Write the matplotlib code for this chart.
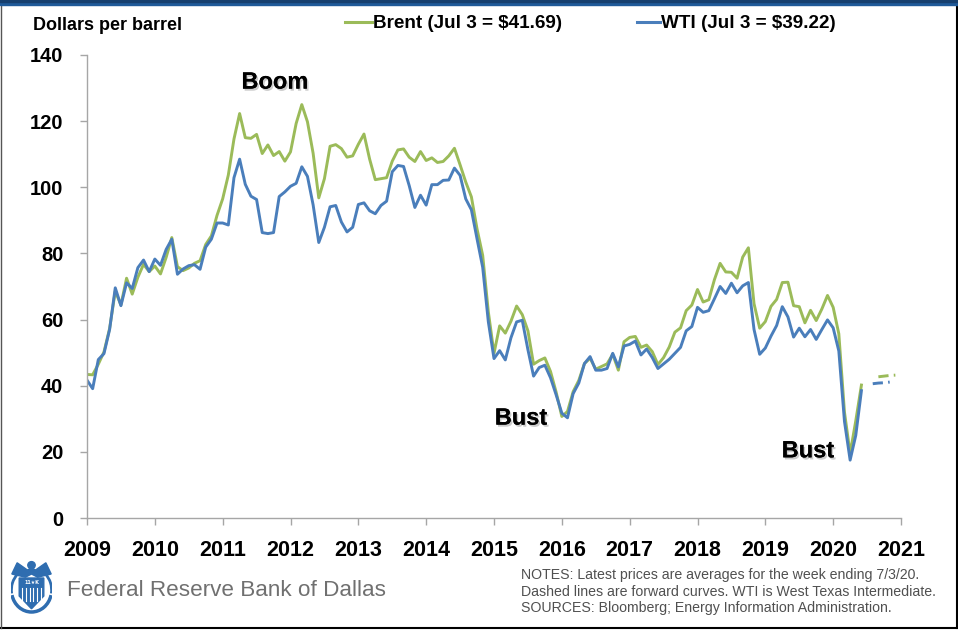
import matplotlib
matplotlib.use("Agg")
import numpy as np
from matplotlib import pyplot as plt
from matplotlib import patches
from matplotlib import patheffects as pe
from matplotlib.lines import Line2D

W, H = 958, 630

# monthly averages, Jan 2009 .. Jun 2020
brent = [
    43.4, 43.3, 46.5, 50.2, 57.3, 68.6, 64.4, 72.5, 67.7, 72.8, 76.7, 74.5,
    76.2, 73.8, 78.8, 84.8, 76.0, 74.8, 75.6, 77.0, 77.8, 82.7, 85.3, 91.5,
    96.5, 103.7, 114.6, 122.3, 115.0, 114.8, 116.0, 110.2, 112.8, 109.6, 110.8, 107.9,
    110.7, 119.3, 125.0, 119.8, 110.3, 96.8, 102.6, 112.4, 112.9, 111.7, 109.1, 109.5,
    113.0, 116.1, 108.5, 102.3, 102.6, 102.9, 107.9, 111.3, 111.6, 109.1, 107.8, 110.8,
    108.1, 108.9, 107.5, 107.8, 109.5, 111.8, 106.8, 101.6, 97.1, 87.4, 79.4, 62.3,
    49.8, 58.1, 55.9, 59.5, 64.1, 61.5, 56.6, 46.5, 47.6, 48.4, 44.3, 38.0,
    30.7, 32.2, 38.2, 41.6, 46.7, 48.3, 45.0, 45.8, 46.6, 49.5, 44.7, 53.3,
    54.6, 54.9, 51.6, 52.3, 50.3, 46.4, 48.5, 51.7, 56.2, 57.5, 62.7, 64.4,
    69.1, 65.3, 66.0, 72.1, 77.0, 74.4, 74.3, 72.5, 78.9, 81.7, 64.8, 57.4,
    59.4, 64.0, 66.1, 71.2, 71.3, 64.2, 63.9, 59.0, 62.8, 59.7, 63.2, 67.3,
    63.7, 55.7, 32.0, 19.5, 29.4, 40.2,
]
wti = [
    41.7, 39.1, 47.9, 49.7, 57.0, 69.6, 64.2, 71.1, 69.4, 75.7, 78.0, 74.5,
    78.3, 76.4, 81.2, 84.3, 73.7, 75.3, 76.3, 76.6, 75.2, 81.9, 84.3, 89.2,
    89.2, 88.6, 102.9, 108.5, 100.9, 97.3, 96.3, 86.3, 86.0, 86.3, 97.2, 98.6,
    100.3, 101.2, 106.2, 103.3, 94.7, 83.3, 87.9, 94.1, 94.5, 89.5, 86.5, 87.9,
    94.8, 95.3, 92.9, 92.0, 94.5, 95.8, 104.7, 106.6, 106.3, 100.5, 93.9, 97.6,
    94.6, 100.8, 100.8, 102.1, 102.2, 105.8, 103.6, 96.5, 93.2, 84.4, 75.8, 59.3,
    48.2, 50.6, 47.8, 54.5, 59.3, 59.8, 50.9, 42.9, 45.5, 46.2, 42.4, 37.2,
    31.7, 30.3, 37.6, 40.8, 46.7, 48.8, 44.7, 44.7, 45.2, 49.8, 45.7, 52.0,
    52.5, 53.5, 49.3, 51.1, 48.5, 45.2, 46.6, 48.0, 49.8, 51.6, 56.6, 57.9,
    63.7, 62.2, 62.7, 66.3, 70.0, 67.9, 71.0, 68.1, 70.2, 71.2, 57.0, 49.5,
    51.4, 55.0, 58.2, 63.9, 60.8, 54.7, 57.4, 54.8, 57.0, 54.0, 57.0, 59.9,
    57.5, 50.5, 29.2, 17.5, 25.0, 38.5,
]
# forward curves (dashed)
brent_fwd_months = ["2020-09", "2020-10", "2020-11", "2020-12"]
brent_fwd = [42.7, 42.9, 43.1, 43.2]
wti_fwd_months = ["2020-08", "2020-09", "2020-10", "2020-11"]
wti_fwd = [40.6, 40.8, 40.9, 41.1]

years = list(range(2009, 2022))
yticks = [0, 20, 40, 60, 80, 100, 120, 140]

legend_labels = ["Brent (Jul 3 = $41.69)", "WTI (Jul 3 = $39.22)"]
notes = [
    "NOTES: Latest prices are averages for the week ending 7/3/20.",
    "Dashed lines are forward curves. WTI is West Texas Intermediate.",
    "SOURCES: Bloomberg; Energy Information Administration.",
]

green = "#9BBB59"
blue = "#4A7EBB"


def month_pos(s):
    y, m = s.split("-")
    return int(y) + (int(m) - 1) / 12


x_hist = 2009 + np.arange(len(brent)) / 12
sans = ["Liberation Sans", "DejaVu Sans"]

fig = plt.figure(figsize=(W / 100, H / 100), dpi=100)


def fx(px):
    return px / W


def fy(py):
    return 1 - py / H


ax = fig.add_axes([fx(87), fy(518), fx(901) - fx(87), fy(55) - fy(518)])
ax.plot(x_hist, brent, color=green, lw=2.1, solid_joinstyle="round")
ax.plot(x_hist, wti, color=blue, lw=2.1, solid_joinstyle="round")
ax.plot([month_pos(m) for m in brent_fwd_months], brent_fwd, color=green, lw=2.1,
        dashes=(3.5, 1.8))
ax.plot([month_pos(m) for m in wti_fwd_months], wti_fwd, color=blue, lw=2.1,
        dashes=(3.5, 1.8))

ax.set_xlim(2009, 2021)
ax.set_ylim(0, 140)
ax.set_xticks(years)
ax.set_yticks(yticks)
ax.set_xticklabels([str(y) for y in years], family=sans, fontsize=15.5, fontweight="bold")
ax.set_yticklabels([str(v) for v in yticks], family=sans, fontsize=14.5, fontweight="bold")
for s in ["top", "right"]:
    ax.spines[s].set_visible(False)
for s in ["left", "bottom"]:
    ax.spines[s].set_color("#A6A6A6")
    ax.spines[s].set_linewidth(1.0)
ax.tick_params(axis="both", colors="#A6A6A6", labelcolor="black", length=5, width=1.0)
ax.tick_params(axis="y", pad=12)
ax.tick_params(axis="x", pad=11)

shadow = [pe.withSimplePatchShadow(offset=(1.2, -1.5), shadow_rgbFace="#aaaaaa", alpha=0.6),
          pe.Normal()]
for label, x, y in [("Boom", 2011.77, 131.8), ("Bust", 2015.40, 30.2), ("Bust", 2019.63, 20.3)]:
    ax.text(x, y, label, ha="center", va="center", fontsize=17, fontweight="bold",
            family=sans, path_effects=shadow)

# header
fig.text(fx(33), fy(25), "Dollars per barrel", family=sans, fontsize=13,
         fontweight="bold", va="center", ha="left")
for (x0, x1, tx), lab, col in zip([(345, 372, 373), (637, 660, 661)], legend_labels, [green, blue]):
    fig.add_artist(Line2D([fx(x0), fx(x1)], [fy(22), fy(22)], color=col, lw=2.2,
                          transform=fig.transFigure))
    fig.text(fx(tx), fy(23), lab, family=sans, fontsize=13.6, fontweight="bold",
             va="center", ha="left")

# notes
for i, line in enumerate(notes):
    fig.text(fx(521), fy(575 + 16.5 * i), line, family=sans, fontsize=10.2,
             color="#505050", va="center", ha="left")

# logo + name
fig.text(fx(67), fy(590), "Federal Reserve Bank of Dallas", family=sans,
         fontsize=16.2, color="#707070", va="center", ha="left")
lax = fig.add_axes([fx(11), fy(614), fx(41), fy(558) - fy(614)])
lax.set_xlim(0, 1)
lax.set_ylim(0, 1.4)
lax.axis("off")
logo = "#2F6DB0"
# wreath
lax.add_patch(patches.Arc((0.5, 0.6), 0.98, 1.1, theta1=195, theta2=345, color=logo, lw=2.5))
lax.add_patch(patches.Arc((0.5, 0.6), 0.98, 1.1, theta1=130, theta2=190, color=logo, lw=2))
lax.add_patch(patches.Arc((0.5, 0.6), 0.98, 1.1, theta1=-10, theta2=50, color=logo, lw=2))
# shield
lax.add_patch(patches.Polygon([[0.2, 0.9], [0.8, 0.9], [0.8, 0.45], [0.5, 0.13], [0.2, 0.45]],
                              closed=True, color=logo))
for sx in np.linspace(0.28, 0.72, 6):
    lax.plot([sx, sx], [0.32, 0.66], color="white", lw=0.8)
lax.text(0.5, 0.78, "11\u2605K", color="white", fontsize=3.5, ha="center", va="center",
         family=["DejaVu Sans"], fontweight="bold")
# eagle
lax.add_patch(patches.Polygon([[0.02, 1.0], [0.35, 0.92], [0.5, 1.0], [0.65, 0.92], [0.98, 1.0],
                               [0.85, 1.28], [0.6, 1.1], [0.5, 1.15], [0.4, 1.1], [0.15, 1.28]],
                              closed=True, color=logo))
lax.add_patch(patches.Circle((0.5, 1.22), 0.09, color=logo))

# frame
fig.add_artist(patches.Rectangle((0, fy(5)), 1, fy(0) - fy(5), transform=fig.transFigure,
                                 color="#1F5A99", zorder=10))
fig.add_artist(patches.Rectangle((0, fy(2)), 1, fy(0) - fy(2), transform=fig.transFigure,
                                 color="#163F6E", zorder=11))
fig.add_artist(Line2D([fx(956.5), fx(956.5)], [fy(628), 1], color="black", lw=1.5,
                      transform=fig.transFigure))
fig.add_artist(Line2D([0, fx(957)], [fy(628), fy(628)], color="black", lw=1.5,
                      transform=fig.transFigure))
fig.add_artist(Line2D([fx(0.5), fx(0.5)], [fy(628), 1], color="#555555", lw=1.0,
                      transform=fig.transFigure))

fig.savefig("out.png", dpi=100)
